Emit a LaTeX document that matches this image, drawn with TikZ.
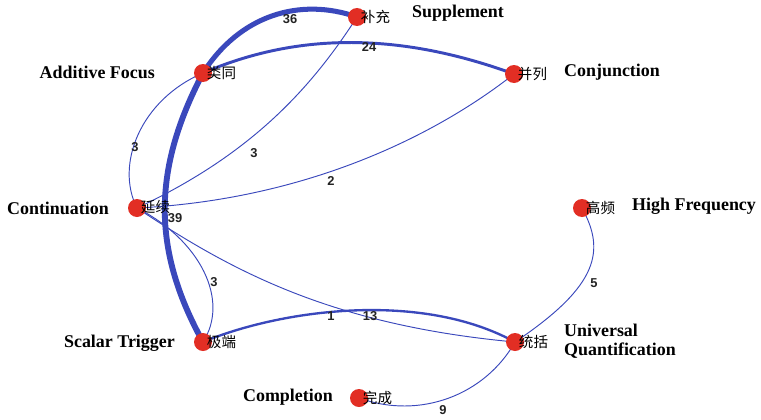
\documentclass[tikz,border=0pt]{standalone}
\usepackage{fontspec}
\setmainfont{Liberation Serif}
\newfontfamily\zhfont{Noto Sans CJK SC}
\newfontfamily\numfont{Liberation Sans}
\usepackage{tikz}
\usetikzlibrary{positioning,backgrounds}
\definecolor{dotred}{RGB}{226,46,36}
\definecolor{linkblue}{RGB}{58,72,188}
\definecolor{wtext}{RGB}{35,35,35}

\begin{document}
\begin{tikzpicture}[
    x=0.03cm, y=-0.03cm,
    dot/.style={circle, fill=dotred, minimum size=0.54cm, inner sep=0pt},
    zh/.style={font=\zhfont\fontsize{12.4}{14}\selectfont, inner sep=1pt},
    term/.style={font=\bfseries\fontsize{15.3}{16.5}\selectfont, inner sep=0pt},
    link/.style={draw=linkblue, line width=0.8pt},
    weight/.style={font=\numfont\bfseries\fontsize{11}{12}\selectfont, text=wtext, inner sep=0pt}
]
\useasboundingbox (0,0) rectangle (761,419);

% Nodes
\node[dot] (buchong) at (357,17) {};
\node[dot] (leitong) at (203,73) {};
\node[dot] (binglie) at (514,74) {};
\node[dot] (yanxu) at (137,208) {};
\node[dot] (gaopin) at (582,208) {};
\node[dot] (jiduan) at (203,342) {};
\node[dot] (tongkuo) at (515,342) {};
\node[dot] (wancheng) at (359,398) {};

% Chinese labels
\node[zh, right=-0.2cm of buchong] {补充};
\node[zh, right=-0.2cm of leitong] {类同};
\node[zh, right=-0.2cm of binglie] {并列};
\node[zh, right=-0.2cm of yanxu, yshift=1pt] {延续};
\node[zh, right=-0.2cm of gaopin] {高频};
\node[zh, right=-0.2cm of jiduan] {极端};
\node[zh, right=-0.2cm of tongkuo] {统括};
\node[zh, right=-0.2cm of wancheng] {完成};

% English labels
\node[term, anchor=west] at (412,13) {Supplement};
\node[term, anchor=east] at (155,72) {Additive Focus};
\node[term, anchor=west] at (564,72) {Conjunction};
\node[term, anchor=east] at (109,208) {Continuation};
\node[term, anchor=west] at (632,206) {High Frequency};
\node[term, anchor=east] at (175,343) {Scalar Trigger};
\node[term, anchor=west, align=left] at (564,341) {Universal\\Quantification};
\node[term, anchor=east] at (333,397) {Completion};

% Connections
\begin{pgfonlayer}{background}
\fill[white] (0,0) rectangle (761,419);
\draw[link, line width=4.3pt] (leitong.center) .. controls (240,15) and (300,-3) .. (buchong.center);
\draw[link, line width=2.5pt] (leitong.center) .. controls (280,40) and (380,25) .. (binglie.center);
\draw[link] (leitong.center) .. controls (140,100) and (115,165) .. (yanxu.center);
\draw[link] (buchong.center) .. controls (310,90) and (250,155) .. (yanxu.center);
\draw[link] (binglie.center) .. controls (430,140) and (300,200) .. (yanxu.center);
\draw[link, line width=5pt] (leitong.center) .. controls (152,170) and (152,250) .. (jiduan.center);
\draw[link] (yanxu.center) .. controls (200,240) and (230,300) .. (jiduan.center);
\draw[link] (yanxu.center) .. controls (230,270) and (330,325) .. (tongkuo.center);
\draw[link, line width=2pt] (jiduan.center) .. controls (280,310) and (420,290) .. (tongkuo.center);
\draw[link] (gaopin.center) .. controls (605,250) and (600,285) .. (tongkuo.center);
\draw[link] (tongkuo.center) .. controls (485,395) and (420,420) .. (wancheng.center);
\end{pgfonlayer}

% Weights
\node[weight] (w36) at (290,19) {36};
\node[weight] (w24) at (369,47) {24};
\node[weight] (w3a) at (135,147) {3};
\node[weight] (w3b) at (254,153) {3};
\node[weight] (w2) at (331,181) {2};
\node[weight] (w39) at (175,218) {39};
\node[weight] (w3c) at (214,282) {3};
\node[weight] (w1) at (331,316) {1};
\node[weight] (w13) at (370,316) {13};
\node[weight] (w5) at (594,283) {5};
\node[weight] (w9) at (443,410) {9};

\end{tikzpicture}
\end{document}
